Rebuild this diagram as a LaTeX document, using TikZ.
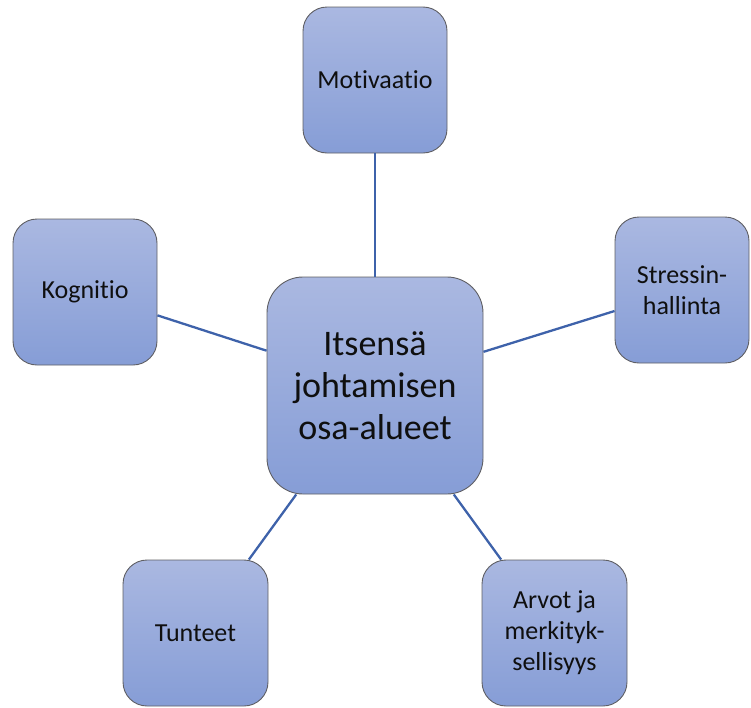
\documentclass[tikz,border=0pt]{standalone}
\usepackage{fontspec}
\setmainfont{Carlito}[Ligatures=NoCommon]
\definecolor{boxtop}{RGB}{170,184,225}
\definecolor{boxbot}{RGB}{134,157,214}
\definecolor{boxline}{RGB}{95,95,100}
\definecolor{conn}{RGB}{62,98,170}
\definecolor{txt}{RGB}{15,15,15}
\tikzset{
  box/.style={draw=boxline, line width=0.9pt, top color=boxtop, bottom color=boxbot,
    rounded corners=24pt, inner sep=0pt, align=center, text=txt,
    font=\fontsize{26}{31}\selectfont},
  bigbox/.style={box, rounded corners=36pt, font=\fontsize{36}{42}\selectfont},
  conn/.style={draw=conn, line width=2.3pt}
}
\begin{document}
\begin{tikzpicture}[x=1pt,y=-1pt]
\useasboundingbox (0,0) rectangle (751,707);
\node[bigbox, minimum width=216pt, minimum height=217pt] (ctr) at (375,385.5) {Itsensä\\johtamisen\\osa-alueet};
\node[box, minimum width=144pt, minimum height=146pt] (mot) at (375,80) {Motivaatio};
\node[box, minimum width=144pt, minimum height=146pt] (kog) at (85,292) {Kognitio};
\node[box, minimum width=134pt, minimum height=146pt] (str) at (682,290) {Stressin-\\hallinta};
\node[box, minimum width=145pt, minimum height=146pt] (tun) at (195.5,633) {Tunteet};
\node[box, minimum width=145pt, minimum height=146pt] (arv) at (554.5,633) {Arvot ja\\merkityk-\\sellisyys};
\draw[conn] (mot) -- (ctr);
\draw[conn] (kog) -- (ctr);
\draw[conn] (str) -- (ctr);
\draw[conn] (tun) -- (ctr);
\draw[conn] (arv) -- (ctr);
\end{tikzpicture}
\end{document}
